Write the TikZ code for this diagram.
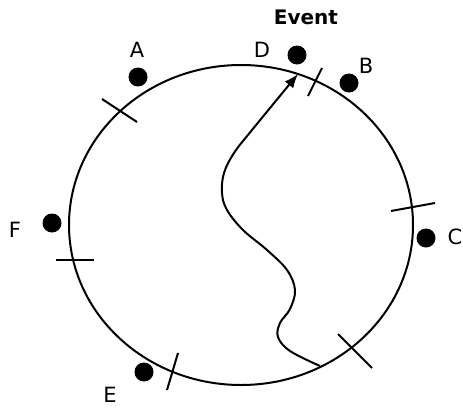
\documentclass[tikz,border=0pt]{standalone}
\usepackage{fontspec}
\setmainfont{DejaVu Sans}
\usetikzlibrary{arrows.meta}
\tikzset{
  ring/.style={line width=2pt, black},
  tick/.style={line width=2pt, black},
  dot/.style={circle, fill=black, inner sep=0pt, minimum size=19pt},
  lbl/.style={inner sep=0pt, font=\fontsize{21}{23}\selectfont},
  evlbl/.style={inner sep=0pt, font=\fontsize{20}{22}\selectfont\bfseries},
  path arrow/.style={line width=2pt, -{Latex[length=14pt,width=11pt]}}
}
\begin{document}
\begin{tikzpicture}[x=1pt,y=-1pt]
\useasboundingbox (0,0) rectangle (463,407);
% ring
\draw[ring] (241,225) ellipse [x radius=172, y radius=160];
% dots
\node[dot] (dA) at (138,77) {};
\node[dot] (dD) at (297,55) {};
\node[dot] (dB) at (349,83) {};
\node[dot] (dC) at (426,238) {};
\node[dot] (dF) at (52,223) {};
\node[dot] (dE) at (144,372) {};
% labels
\node[lbl] (lA) at (137,50) {A};
\node[lbl] (lD) at (262,50) {D};
\node[lbl] (lB) at (366,66) {B};
\node[lbl] (lC) at (455,237) {C};
\node[lbl] (lF) at (15,230) {F};
\node[lbl] (lE) at (110,395) {E};
\node[evlbl] (ev) at (306,17) {Event};
% ticks
\draw[tick] (102,99) -- (137,122);
\draw[tick] (322,68) -- (308,96);
\draw[tick] (391,211) -- (435,203);
\draw[tick] (56,260) -- (94,260);
\draw[tick] (178,353) -- (167,390);
\draw[tick] (338,334) -- (372,368);
% wavy path
\coordinate (start) at (320,366);
\coordinate (tip) at (298,74);
\draw[path arrow] plot[smooth, tension=0.6] coordinates {
  (start) (290,351) (278,337) (280,323) (290,309) (295,290) (287,270)
  (267,250) (243,230) (227,210) (222,193) (224,173) (234,153) (252,130) (tip)};
\end{tikzpicture}
\end{document}
